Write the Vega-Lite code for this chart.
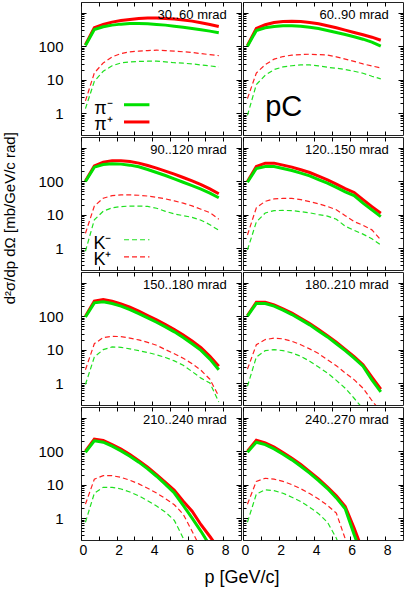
{
  "$schema": "https://vega.github.io/schema/vega-lite/v6.json",
  "padding": {"left": 2, "top": 1, "right": 0, "bottom": 0},
  "title": {"text": "d²σ/dp dΩ [mb/GeV/c rad]", "orient": "left", "anchor": "middle", "fontSize": 15, "fontWeight": "normal", "font": "Liberation Sans", "color": "#000", "offset": 20, "dx": 76},
  "data": {"values": [
    {"r":1,"c":1,"a":"30..60 mrad","p":0.25,"pim":105,"pip":110,"km":1.35,"kp":2.3},
    {"r":1,"c":1,"a":"30..60 mrad","p":0.75,"pim":316,"pip":355,"km":8.9,"kp":15.8},
    {"r":1,"c":1,"a":"30..60 mrad","p":1.25,"pim":380,"pip":447,"km":17.8,"kp":31.6},
    {"r":1,"c":1,"a":"30..60 mrad","p":1.75,"pim":427,"pip":525,"km":26,"kp":48},
    {"r":1,"c":1,"a":"30..60 mrad","p":2.25,"pim":457,"pip":589,"km":31.6,"kp":60},
    {"r":1,"c":1,"a":"30..60 mrad","p":2.75,"pim":479,"pip":631,"km":34,"kp":68},
    {"r":1,"c":1,"a":"30..60 mrad","p":3.25,"pim":479,"pip":676,"km":35,"kp":71},
    {"r":1,"c":1,"a":"30..60 mrad","p":3.75,"pim":468,"pip":692,"km":35.5,"kp":74},
    {"r":1,"c":1,"a":"30..60 mrad","p":4.25,"pim":447,"pip":692,"km":35.5,"kp":76},
    {"r":1,"c":1,"a":"30..60 mrad","p":4.75,"pim":427,"pip":676,"km":34,"kp":74},
    {"r":1,"c":1,"a":"30..60 mrad","p":5.25,"pim":398,"pip":646,"km":32,"kp":71},
    {"r":1,"c":1,"a":"30..60 mrad","p":5.75,"pim":371,"pip":603,"km":31,"kp":68},
    {"r":1,"c":1,"a":"30..60 mrad","p":6.25,"pim":339,"pip":562,"km":29.5,"kp":65},
    {"r":1,"c":1,"a":"30..60 mrad","p":6.75,"pim":309,"pip":501,"km":27.5,"kp":60},
    {"r":1,"c":1,"a":"30..60 mrad","p":7.25,"pim":282,"pip":447,"km":25.7,"kp":56},
    {"r":1,"c":1,"a":"30..60 mrad","p":7.75,"pim":251,"pip":389,"km":24,"kp":52},
    {"r":1,"c":2,"a":"60..90 mrad","p":0.25,"pim":100,"pip":105,"km":0.85,"kp":2.7},
    {"r":1,"c":2,"a":"60..90 mrad","p":0.75,"pim":295,"pip":339,"km":7.1,"kp":15.8},
    {"r":1,"c":2,"a":"60..90 mrad","p":1.25,"pim":355,"pip":437,"km":13.5,"kp":28},
    {"r":1,"c":2,"a":"60..90 mrad","p":1.75,"pim":389,"pip":513,"km":20,"kp":41},
    {"r":1,"c":2,"a":"60..90 mrad","p":2.25,"pim":407,"pip":550,"km":24,"kp":49},
    {"r":1,"c":2,"a":"60..90 mrad","p":2.75,"pim":407,"pip":562,"km":26,"kp":54},
    {"r":1,"c":2,"a":"60..90 mrad","p":3.25,"pim":398,"pip":550,"km":27.5,"kp":56},
    {"r":1,"c":2,"a":"60..90 mrad","p":3.75,"pim":371,"pip":513,"km":27.5,"kp":57.5},
    {"r":1,"c":2,"a":"60..90 mrad","p":4.25,"pim":339,"pip":468,"km":25.7,"kp":56},
    {"r":1,"c":2,"a":"60..90 mrad","p":4.75,"pim":295,"pip":407,"km":23.4,"kp":54},
    {"r":1,"c":2,"a":"60..90 mrad","p":5.25,"pim":257,"pip":355,"km":21.9,"kp":48},
    {"r":1,"c":2,"a":"60..90 mrad","p":5.75,"pim":224,"pip":302,"km":20,"kp":41},
    {"r":1,"c":2,"a":"60..90 mrad","p":6.25,"pim":191,"pip":257,"km":17.8,"kp":35},
    {"r":1,"c":2,"a":"60..90 mrad","p":6.75,"pim":162,"pip":219,"km":15.5,"kp":29.5},
    {"r":1,"c":2,"a":"60..90 mrad","p":7.25,"pim":132,"pip":186,"km":12.6,"kp":25.7},
    {"r":1,"c":2,"a":"60..90 mrad","p":7.75,"pim":100,"pip":151,"km":10.5,"kp":22.4},
    {"r":2,"c":1,"a":"90..120 mrad","p":0.25,"pim":98,"pip":102,"km":0.8,"kp":2.75},
    {"r":2,"c":1,"a":"90..120 mrad","p":0.75,"pim":263,"pip":288,"km":7,"kp":18},
    {"r":2,"c":1,"a":"90..120 mrad","p":1.25,"pim":316,"pip":372,"km":12.6,"kp":31},
    {"r":2,"c":1,"a":"90..120 mrad","p":1.75,"pim":331,"pip":407,"km":16,"kp":37},
    {"r":2,"c":1,"a":"90..120 mrad","p":2.25,"pim":324,"pip":407,"km":17.4,"kp":39},
    {"r":2,"c":1,"a":"90..120 mrad","p":2.75,"pim":302,"pip":389,"km":18,"kp":39},
    {"r":2,"c":1,"a":"90..120 mrad","p":3.25,"pim":269,"pip":347,"km":18,"kp":38},
    {"r":2,"c":1,"a":"90..120 mrad","p":3.75,"pim":224,"pip":295,"km":17.6,"kp":36},
    {"r":2,"c":1,"a":"90..120 mrad","p":4.25,"pim":182,"pip":245,"km":15.5,"kp":33},
    {"r":2,"c":1,"a":"90..120 mrad","p":4.75,"pim":148,"pip":200,"km":12.5,"kp":29.5},
    {"r":2,"c":1,"a":"90..120 mrad","p":5.25,"pim":117,"pip":162,"km":10.5,"kp":25.7},
    {"r":2,"c":1,"a":"90..120 mrad","p":5.75,"pim":93,"pip":129,"km":9.3,"kp":22},
    {"r":2,"c":1,"a":"90..120 mrad","p":6.25,"pim":74,"pip":102,"km":8.3,"kp":18.2},
    {"r":2,"c":1,"a":"90..120 mrad","p":6.75,"pim":58,"pip":79,"km":6.8,"kp":14.5},
    {"r":2,"c":1,"a":"90..120 mrad","p":7.25,"pim":44,"pip":59,"km":5,"kp":11.5},
    {"r":2,"c":1,"a":"90..120 mrad","p":7.75,"pim":32,"pip":42,"km":3.4,"kp":7.3},
    {"r":2,"c":2,"a":"120..150 mrad","p":0.25,"pim":93,"pip":98,"km":0.87,"kp":2.45},
    {"r":2,"c":2,"a":"120..150 mrad","p":0.75,"pim":240,"pip":275,"km":6,"kp":16},
    {"r":2,"c":2,"a":"120..150 mrad","p":1.25,"pim":275,"pip":347,"km":11.2,"kp":25},
    {"r":2,"c":2,"a":"120..150 mrad","p":1.75,"pim":275,"pip":347,"km":13.2,"kp":29.5},
    {"r":2,"c":2,"a":"120..150 mrad","p":2.25,"pim":240,"pip":302,"km":13.3,"kp":30.5},
    {"r":2,"c":2,"a":"120..150 mrad","p":2.75,"pim":209,"pip":263,"km":13.2,"kp":30.5},
    {"r":2,"c":2,"a":"120..150 mrad","p":3.25,"pim":174,"pip":219,"km":12.2,"kp":28},
    {"r":2,"c":2,"a":"120..150 mrad","p":3.75,"pim":145,"pip":182,"km":11.3,"kp":24.5},
    {"r":2,"c":2,"a":"120..150 mrad","p":4.25,"pim":112,"pip":141,"km":10,"kp":21},
    {"r":2,"c":2,"a":"120..150 mrad","p":4.75,"pim":87,"pip":110,"km":9,"kp":17.5},
    {"r":2,"c":2,"a":"120..150 mrad","p":5.25,"pim":65,"pip":82,"km":7.3,"kp":14},
    {"r":2,"c":2,"a":"120..150 mrad","p":5.75,"pim":48,"pip":60,"km":4.5,"kp":9.3},
    {"r":2,"c":2,"a":"120..150 mrad","p":6.25,"pim":37,"pip":46,"km":3.4,"kp":6.2},
    {"r":2,"c":2,"a":"120..150 mrad","p":6.75,"pim":22,"pip":28,"km":2.6,"kp":4.8},
    {"r":2,"c":2,"a":"120..150 mrad","p":7.25,"pim":13.8,"pip":17.4,"km":1.9,"kp":3.5},
    {"r":2,"c":2,"a":"120..150 mrad","p":7.75,"pim":8.7,"pip":11,"km":1.23,"kp":1.75},
    {"r":3,"c":1,"a":"150..180 mrad","p":0.25,"pim":95,"pip":100,"km":0.9,"kp":2.5},
    {"r":3,"c":1,"a":"150..180 mrad","p":0.75,"pim":251,"pip":282,"km":6,"kp":15},
    {"r":3,"c":1,"a":"150..180 mrad","p":1.25,"pim":269,"pip":316,"km":10,"kp":23},
    {"r":3,"c":1,"a":"150..180 mrad","p":1.75,"pim":240,"pip":282,"km":12,"kp":25},
    {"r":3,"c":1,"a":"150..180 mrad","p":2.25,"pim":200,"pip":234,"km":11.7,"kp":24.5},
    {"r":3,"c":1,"a":"150..180 mrad","p":2.75,"pim":158,"pip":186,"km":10.5,"kp":22},
    {"r":3,"c":1,"a":"150..180 mrad","p":3.25,"pim":120,"pip":141,"km":9.3,"kp":19.5},
    {"r":3,"c":1,"a":"150..180 mrad","p":3.75,"pim":89,"pip":105,"km":8.2,"kp":16.5},
    {"r":3,"c":1,"a":"150..180 mrad","p":4.25,"pim":66,"pip":78,"km":7,"kp":13.5},
    {"r":3,"c":1,"a":"150..180 mrad","p":4.75,"pim":48,"pip":56,"km":5.8,"kp":10},
    {"r":3,"c":1,"a":"150..180 mrad","p":5.25,"pim":34,"pip":40,"km":4.6,"kp":7.5},
    {"r":3,"c":1,"a":"150..180 mrad","p":5.75,"pim":23,"pip":27.5,"km":3.4,"kp":5.5},
    {"r":3,"c":1,"a":"150..180 mrad","p":6.25,"pim":15,"pip":18,"km":2.2,"kp":3.8},
    {"r":3,"c":1,"a":"150..180 mrad","p":6.75,"pim":9.5,"pip":11.5,"km":1.4,"kp":2.4},
    {"r":3,"c":1,"a":"150..180 mrad","p":7.25,"pim":5.2,"pip":6.3,"km":1.0,"kp":1.3},
    {"r":3,"c":1,"a":"150..180 mrad","p":7.75,"pim":2.5,"pip":3.2,"km":0.27,"kp":0.4},
    {"r":3,"c":2,"a":"180..210 mrad","p":0.25,"pim":100,"pip":105,"km":0.8,"kp":2.6},
    {"r":3,"c":2,"a":"180..210 mrad","p":0.75,"pim":240,"pip":263,"km":6,"kp":14},
    {"r":3,"c":2,"a":"180..210 mrad","p":1.25,"pim":240,"pip":263,"km":9.3,"kp":20},
    {"r":3,"c":2,"a":"180..210 mrad","p":1.75,"pim":200,"pip":219,"km":10,"kp":22},
    {"r":3,"c":2,"a":"180..210 mrad","p":2.25,"pim":151,"pip":166,"km":9.3,"kp":21},
    {"r":3,"c":2,"a":"180..210 mrad","p":2.75,"pim":112,"pip":123,"km":8,"kp":17.8},
    {"r":3,"c":2,"a":"180..210 mrad","p":3.25,"pim":79,"pip":87,"km":6.3,"kp":14},
    {"r":3,"c":2,"a":"180..210 mrad","p":3.75,"pim":55,"pip":60,"km":4.5,"kp":10.5},
    {"r":3,"c":2,"a":"180..210 mrad","p":4.25,"pim":36,"pip":40,"km":3,"kp":7.6},
    {"r":3,"c":2,"a":"180..210 mrad","p":4.75,"pim":24,"pip":26,"km":2,"kp":5},
    {"r":3,"c":2,"a":"180..210 mrad","p":5.25,"pim":15,"pip":16.6,"km":1.2,"kp":3.3},
    {"r":3,"c":2,"a":"180..210 mrad","p":5.75,"pim":9.3,"pip":10.2,"km":0.7,"kp":2},
    {"r":3,"c":2,"a":"180..210 mrad","p":6.25,"pim":5.6,"pip":6.2,"km":0.35,"kp":1.26},
    {"r":3,"c":2,"a":"180..210 mrad","p":6.75,"pim":3.2,"pip":3.5,"km":0.17,"kp":0.7},
    {"r":3,"c":2,"a":"180..210 mrad","p":7.25,"pim":1.25,"pip":1.5,"km":0.08,"kp":0.3},
    {"r":3,"c":2,"a":"180..210 mrad","p":7.75,"pim":0.54,"pip":0.66,"km":0.04,"kp":0.14},
    {"r":4,"c":1,"a":"210..240 mrad","p":0.25,"pim":93,"pip":100,"km":0.75,"kp":2.6},
    {"r":4,"c":1,"a":"210..240 mrad","p":0.75,"pim":204,"pip":229,"km":5.5,"kp":14.5},
    {"r":4,"c":1,"a":"210..240 mrad","p":1.25,"pim":186,"pip":209,"km":8.3,"kp":18.5},
    {"r":4,"c":1,"a":"210..240 mrad","p":1.75,"pim":141,"pip":158,"km":8.3,"kp":18.5},
    {"r":4,"c":1,"a":"210..240 mrad","p":2.25,"pim":102,"pip":115,"km":7.4,"kp":16.5},
    {"r":4,"c":1,"a":"210..240 mrad","p":2.75,"pim":71,"pip":79,"km":6,"kp":13.5},
    {"r":4,"c":1,"a":"210..240 mrad","p":3.25,"pim":47,"pip":52,"km":4.6,"kp":10.5},
    {"r":4,"c":1,"a":"210..240 mrad","p":3.75,"pim":29.5,"pip":33,"km":3.3,"kp":7.8},
    {"r":4,"c":1,"a":"210..240 mrad","p":4.25,"pim":17.8,"pip":20,"km":2.3,"kp":5.6},
    {"r":4,"c":1,"a":"210..240 mrad","p":4.75,"pim":10.2,"pip":11.7,"km":1.5,"kp":3.8},
    {"r":4,"c":1,"a":"210..240 mrad","p":5.25,"pim":5.6,"pip":6.8,"km":0.85,"kp":2.5},
    {"r":4,"c":1,"a":"210..240 mrad","p":5.75,"pim":2.4,"pip":3.2,"km":0.25,"kp":1.3},
    {"r":4,"c":1,"a":"210..240 mrad","p":6.25,"pim":1.0,"pip":1.6,"km":0.09,"kp":0.4},
    {"r":4,"c":1,"a":"210..240 mrad","p":6.75,"pim":0.4,"pip":0.63,"km":0.04,"kp":0.12},
    {"r":4,"c":1,"a":"210..240 mrad","p":7.25,"pim":0.15,"pip":0.28,"km":0.02,"kp":0.05},
    {"r":4,"c":1,"a":"210..240 mrad","p":7.75,"pim":0.06,"pip":0.12,"km":0.01,"kp":0.02},
    {"r":4,"c":2,"a":"240..270 mrad","p":0.25,"pim":93,"pip":100,"km":0.75,"kp":2.6},
    {"r":4,"c":2,"a":"240..270 mrad","p":0.75,"pim":186,"pip":214,"km":5.2,"kp":12.5},
    {"r":4,"c":2,"a":"240..270 mrad","p":1.25,"pim":158,"pip":178,"km":7,"kp":15.5},
    {"r":4,"c":2,"a":"240..270 mrad","p":1.75,"pim":117,"pip":132,"km":6.6,"kp":14.5},
    {"r":4,"c":2,"a":"240..270 mrad","p":2.25,"pim":81,"pip":91,"km":5.5,"kp":12.5},
    {"r":4,"c":2,"a":"240..270 mrad","p":2.75,"pim":55,"pip":62,"km":4.2,"kp":10},
    {"r":4,"c":2,"a":"240..270 mrad","p":3.25,"pim":35.5,"pip":40,"km":3.1,"kp":7.5},
    {"r":4,"c":2,"a":"240..270 mrad","p":3.75,"pim":22,"pip":24.5,"km":2.1,"kp":5.4},
    {"r":4,"c":2,"a":"240..270 mrad","p":4.25,"pim":13.2,"pip":14.8,"km":1.35,"kp":3.7},
    {"r":4,"c":2,"a":"240..270 mrad","p":4.75,"pim":7.6,"pip":8.5,"km":0.75,"kp":2.4},
    {"r":4,"c":2,"a":"240..270 mrad","p":5.25,"pim":4,"pip":4.6,"km":0.25,"kp":1.4},
    {"r":4,"c":2,"a":"240..270 mrad","p":5.75,"pim":1.9,"pip":2.2,"km":0.05,"kp":0.24},
    {"r":4,"c":2,"a":"240..270 mrad","p":6.25,"pim":0.32,"pip":0.5,"km":0.01,"kp":0.05},
    {"r":4,"c":2,"a":"240..270 mrad","p":6.75,"pim":0.063,"pip":0.1,"km":0.01,"kp":0.01},
    {"r":4,"c":2,"a":"240..270 mrad","p":7.25,"pim":0.02,"pip":0.03,"km":0.01,"kp":0.01},
    {"r":4,"c":2,"a":"240..270 mrad","p":7.75,"pim":0.01,"pip":0.01,"km":0.01,"kp":0.01}
  ]},
  "facet": {
    "row": {"field": "r", "type": "ordinal", "header": {"labels": false, "title": null}},
    "column": {"field": "c", "type": "ordinal", "header": {"labels": false, "title": "p [GeV/c]", "titleOrient": "bottom", "titleFontSize": 18, "titleFontWeight": "normal", "titleColor": "#000", "titlePadding": 2}}
  },
  "spacing": 0,
  "spec": {
    "width": 160,
    "height": 133,
    "layer": [
      {
        "mark": {"type": "line", "color": "#ff2020", "strokeWidth": 1.2, "strokeDash": [5, 3], "clip": true},
        "encoding": {
          "x": {"field": "p", "type": "quantitative", "scale": {"domain": [0, 9], "nice": false, "zero": false},
            "axis": {"values": [0, 1, 2, 3, 4, 5, 6, 7, 8], "tickCount": 40, "format": "d",
              "labelExpr": "datum.value % 2 == 0 ? datum.label : ''",
              "labelFontSize": {"condition": {"test": "datum.value % 2 == 0", "value": 14}, "value": 0},
              "ticks": false, "domain": false, "grid": true, "gridDash": [4, 125], "gridColor": "#000", "gridOpacity": 1, "gridWidth": 1, "labelPadding": 2, "labelFlush": false, "labelOverlap": false, "labelBound": false, "labelColor": "#000", "labelOffset": 2, "title": null}},
          "y": {"field": "kp", "type": "quantitative", "scale": {"type": "log", "domain": [0.22, 2100], "nice": false},
            "axis": {"values": [0.3, 0.4, 0.5, 0.6, 0.7, 0.8, 0.9, 1, 2, 3, 4, 5, 6, 7, 8, 9, 10, 20, 30, 40, 50, 60, 70, 80, 90, 100, 200, 300, 400, 500, 600, 700, 800, 900, 1000], "tickCount": 60,
              "labelExpr": "datum.value == 1 ? '1' : datum.value == 10 ? '10' : datum.value == 100 ? '100' : ''",
              "labelFontSize": {"condition": {"test": "datum.value == 1 || datum.value == 10 || datum.value == 100", "value": 15}, "value": 0},
              "ticks": false, "domain": false, "grid": true,
              "gridDash": {"condition": {"test": "datum.value == 1 || datum.value == 10 || datum.value == 100 || datum.value == 1000", "value": [5, 150]}, "value": [3, 154]},
              "gridColor": "#000", "gridOpacity": 1, "gridWidth": 1, "labelPadding": 17, "labelOverlap": false, "labelBound": false, "labelColor": "#000", "title": null}}
        }
      },
      {
        "mark": {"type": "line", "color": "#20e020", "strokeWidth": 1.2, "strokeDash": [5, 3], "clip": true},
        "encoding": {"x": {"field": "p", "type": "quantitative", "axis": {"title": null}}, "y": {"field": "km", "type": "quantitative", "axis": {"title": null}}}
      },
      {
        "mark": {"type": "line", "color": "#ff0000", "strokeWidth": 3, "clip": true},
        "encoding": {"x": {"field": "p", "type": "quantitative", "axis": {"title": null}}, "y": {"field": "pip", "type": "quantitative", "axis": {"title": null}}}
      },
      {
        "mark": {"type": "line", "color": "#00e000", "strokeWidth": 3, "clip": true},
        "encoding": {"x": {"field": "p", "type": "quantitative", "axis": {"title": null}}, "y": {"field": "pim", "type": "quantitative", "axis": {"title": null}}}
      },
      {
        "transform": [{"filter": "datum.p == 0.25"}],
        "mark": {"type": "text", "align": "right", "baseline": "middle", "fontSize": 13, "color": "#000"},
        "encoding": {"x": {"datum": 8.2, "type": "quantitative", "axis": {"title": null}}, "y": {"datum": 860, "type": "quantitative", "axis": {"title": null}}, "text": {"field": "a"}}
      },
      {
        "transform": [{"filter": "datum.r == 1 && datum.c == 1 && datum.p == 0.25"}],
        "mark": {"type": "text", "align": "left", "baseline": "alphabetic", "fontSize": 18, "color": "#000", "text": "π⁻"},
        "encoding": {"x": {"datum": 0.75, "type": "quantitative", "axis": {"title": null}}, "y": {"datum": 0.95, "type": "quantitative", "axis": {"title": null}}}
      },
      {
        "transform": [{"filter": "datum.r == 1 && datum.c == 1 && datum.p == 0.25"}],
        "mark": {"type": "text", "align": "left", "baseline": "alphabetic", "fontSize": 18, "color": "#000", "text": "π⁺"},
        "encoding": {"x": {"datum": 0.75, "type": "quantitative", "axis": {"title": null}}, "y": {"datum": 0.3, "type": "quantitative", "axis": {"title": null}}}
      },
      {
        "transform": [{"filter": "datum.r == 1 && datum.c == 1 && datum.p == 0.25"}],
        "mark": {"type": "rule", "color": "#00e000", "strokeWidth": 3},
        "encoding": {"x": {"datum": 2.42, "type": "quantitative", "axis": {"title": null}}, "x2": {"datum": 3.85}, "y": {"datum": 1.77, "type": "quantitative", "axis": {"title": null}}}
      },
      {
        "transform": [{"filter": "datum.r == 1 && datum.c == 1 && datum.p == 0.25"}],
        "mark": {"type": "rule", "color": "#ff0000", "strokeWidth": 3},
        "encoding": {"x": {"datum": 2.42, "type": "quantitative", "axis": {"title": null}}, "x2": {"datum": 3.85}, "y": {"datum": 0.54, "type": "quantitative", "axis": {"title": null}}}
      },
      {
        "transform": [{"filter": "datum.r == 2 && datum.c == 1 && datum.p == 0.25"}],
        "mark": {"type": "text", "align": "left", "baseline": "alphabetic", "fontSize": 18, "color": "#000", "text": "K⁻"},
        "encoding": {"x": {"datum": 0.7, "type": "quantitative", "axis": {"title": null}}, "y": {"datum": 0.95, "type": "quantitative", "axis": {"title": null}}}
      },
      {
        "transform": [{"filter": "datum.r == 2 && datum.c == 1 && datum.p == 0.25"}],
        "mark": {"type": "text", "align": "left", "baseline": "alphabetic", "fontSize": 18, "color": "#000", "text": "K⁺"},
        "encoding": {"x": {"datum": 0.7, "type": "quantitative", "axis": {"title": null}}, "y": {"datum": 0.3, "type": "quantitative", "axis": {"title": null}}}
      },
      {
        "transform": [{"filter": "datum.r == 2 && datum.c == 1 && datum.p == 0.25"}],
        "mark": {"type": "rule", "color": "#20e020", "strokeWidth": 1.2, "strokeDash": [5, 3]},
        "encoding": {"x": {"datum": 2.42, "type": "quantitative", "axis": {"title": null}}, "x2": {"datum": 3.85}, "y": {"datum": 1.77, "type": "quantitative", "axis": {"title": null}}}
      },
      {
        "transform": [{"filter": "datum.r == 2 && datum.c == 1 && datum.p == 0.25"}],
        "mark": {"type": "rule", "color": "#ff2020", "strokeWidth": 1.2, "strokeDash": [5, 3]},
        "encoding": {"x": {"datum": 2.42, "type": "quantitative", "axis": {"title": null}}, "x2": {"datum": 3.85}, "y": {"datum": 0.54, "type": "quantitative", "axis": {"title": null}}}
      },
      {
        "transform": [{"filter": "datum.r == 1 && datum.c == 2 && datum.p == 0.25"}],
        "mark": {"type": "text", "align": "left", "baseline": "alphabetic", "fontSize": 29, "color": "#000", "text": "pC"},
        "encoding": {"x": {"datum": 1.25, "type": "quantitative", "axis": {"title": null}}, "y": {"datum": 0.8, "type": "quantitative", "axis": {"title": null}}}
      }
    ]
  },
  "config": {
    "font": "Liberation Sans",
    "view": {"stroke": "#222", "strokeWidth": 1},
    "axis": {"labelOverlap": false, "labelBound": false}
  }
}
